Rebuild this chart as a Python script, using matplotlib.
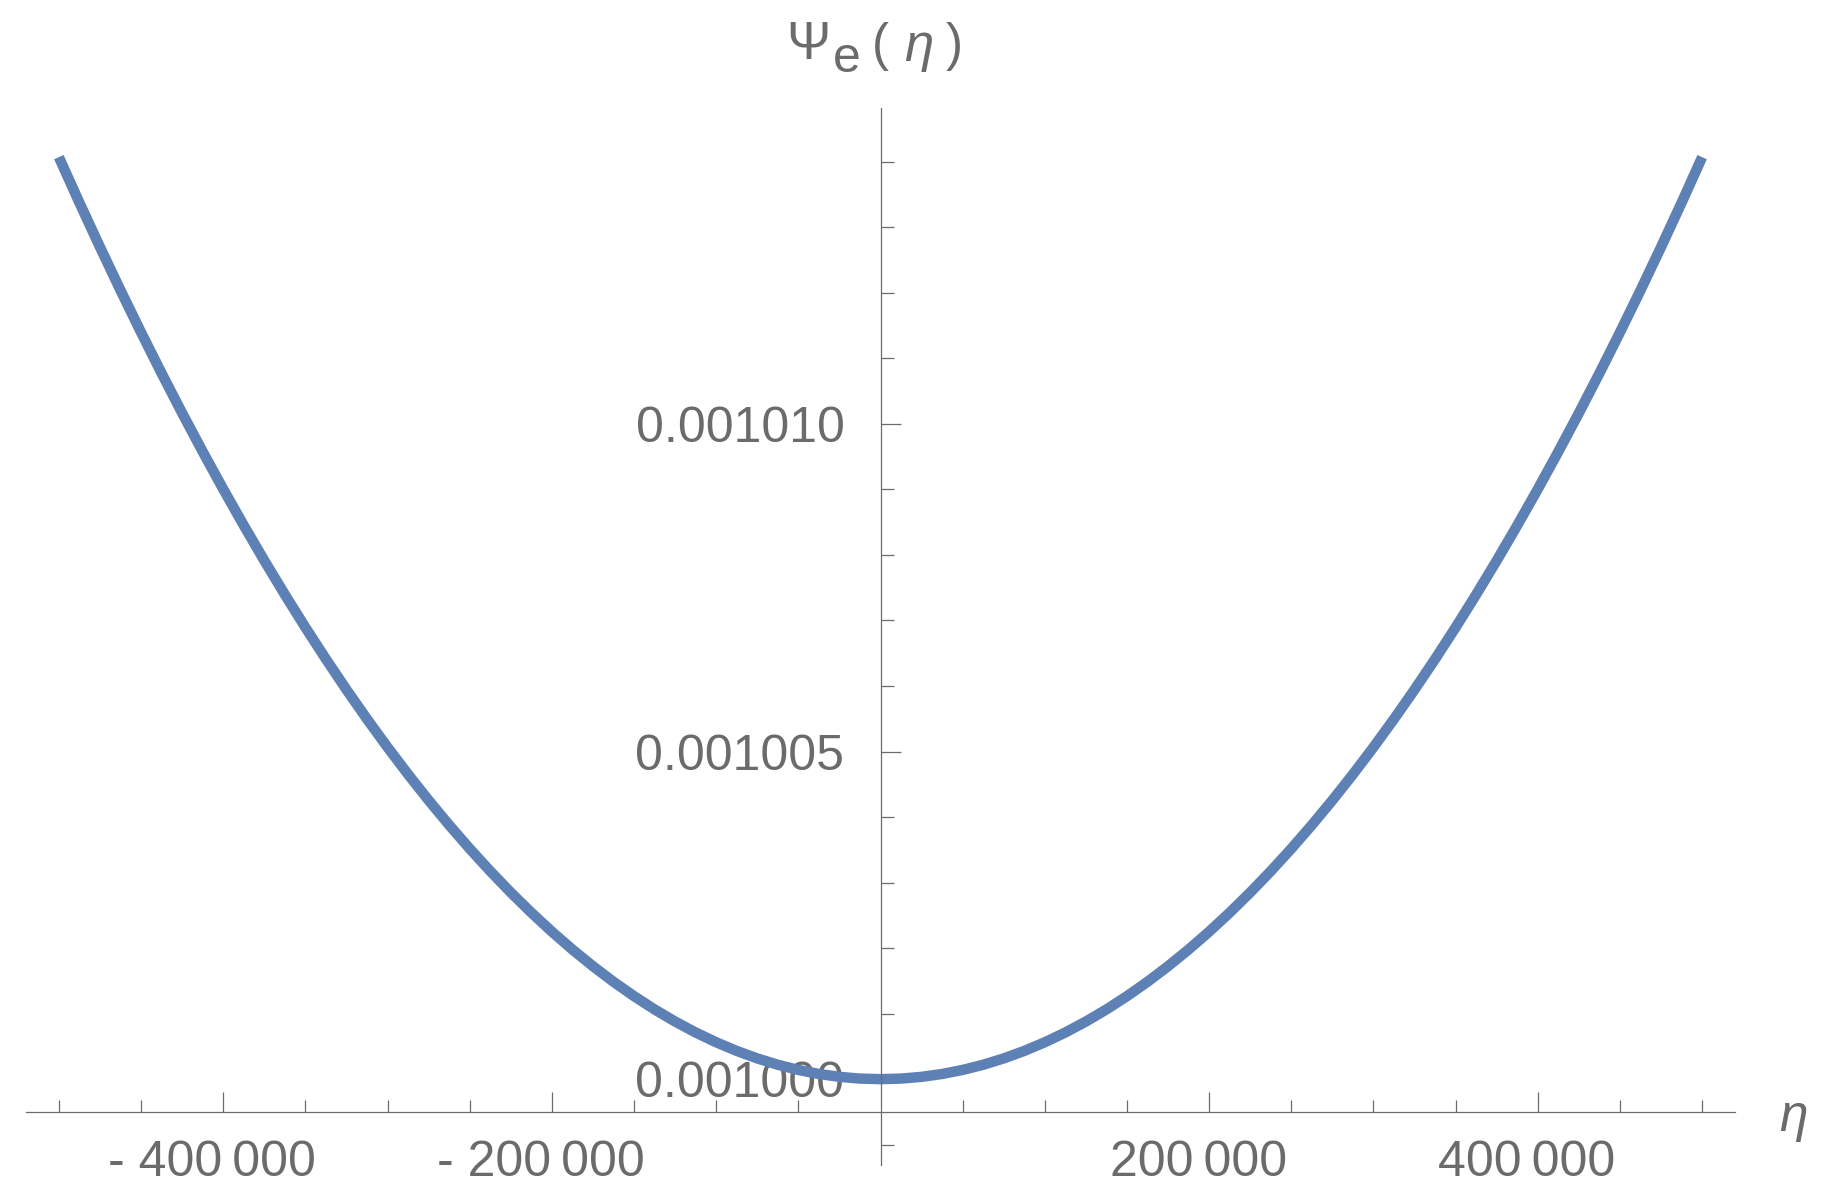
import matplotlib.pyplot as plt
from matplotlib.ticker import FixedLocator, MultipleLocator
from matplotlib.transforms import ScaledTranslation

plt.rcParams['font.family'] = ['Liberation Sans', 'DejaVu Sans']

eta = [k * 12500 for k in range(-40, 41)]
psi = [0.0010140700, 0.0010133753, 0.0010126982, 0.0010120386, 0.0010113967,
       0.0010107723, 0.0010101656, 0.0010095764, 0.0010090048, 0.0010084508,
       0.0010079144, 0.0010073956, 0.0010068943, 0.0010064107, 0.0010059446,
       0.0010054961, 0.0010050652, 0.0010046519, 0.0010042562, 0.0010038780,
       0.0010035175, 0.0010031745, 0.0010028492, 0.0010025414, 0.0010022512,
       0.0010019786, 0.0010017236, 0.0010014861, 0.0010012663, 0.0010010640,
       0.0010008794, 0.0010007123, 0.0010005628, 0.0010004309, 0.0010003166,
       0.0010002198, 0.0010001407, 0.0010000791, 0.0010000352, 0.0010000088,
       0.0010000000,
       0.0010000088, 0.0010000352, 0.0010000791, 0.0010001407, 0.0010002198,
       0.0010003166, 0.0010004309, 0.0010005628, 0.0010007123, 0.0010008794,
       0.0010010640, 0.0010012663, 0.0010014861, 0.0010017236, 0.0010019786,
       0.0010022512, 0.0010025414, 0.0010028492, 0.0010031745, 0.0010035175,
       0.0010038780, 0.0010042562, 0.0010046519, 0.0010050652, 0.0010054961,
       0.0010059446, 0.0010064107, 0.0010068943, 0.0010073956, 0.0010079144,
       0.0010084508, 0.0010090048, 0.0010095764, 0.0010101656, 0.0010107723,
       0.0010113967, 0.0010120386, 0.0010126982, 0.0010133753, 0.0010140700]

xticks = [-400000, -200000, 200000, 400000]
xlabels = ['- 400\u2009000', '- 200\u2009000', '200\u2009000', '400\u2009000']
xminor = [-500000, -450000, -350000, -300000, -250000, -150000, -100000, -50000,
          50000, 100000, 150000, 250000, 300000, 350000, 450000, 500000]
yticks = [0.001000, 0.001005, 0.001010]
ylabels = ['0.001000', '0.001005', '0.001010']

grey = '#6b6b6b'
W, H = 1825, 1200

fig = plt.figure(figsize=(W / 100, H / 100), dpi=100)
ax = fig.add_axes([26 / W, 1 - 1165 / H, (1735 - 26) / W, (1165 - 108) / H])

ax.plot(eta, psi, color='#5E81B5', lw=7.5, solid_capstyle='butt', solid_joinstyle='round')

ax.set_xlim(-520000, 520000)
ax.set_ylim(0.00099869, 0.00101482)

for s in ['top', 'right']:
    ax.spines[s].set_visible(False)
ax.spines['left'].set_position(('data', 0))
ax.spines['bottom'].set_position(('data', 0.0009995))
for s in ['left', 'bottom']:
    ax.spines[s].set_color(grey)
    ax.spines[s].set_linewidth(0.9)

ax.xaxis.set_major_locator(FixedLocator(xticks))
ax.set_xticklabels(xlabels)
ax.xaxis.set_minor_locator(FixedLocator(xminor))
ax.yaxis.set_major_locator(FixedLocator(yticks))
ax.set_yticklabels(ylabels)
ax.yaxis.set_minor_locator(MultipleLocator(0.000001))

ax.tick_params(axis='both', which='both', direction='in', color=grey, width=0.9,
               labelcolor=grey, labelsize=36)
ax.tick_params(axis='both', which='major', length=14.5)
ax.tick_params(axis='both', which='minor', length=9)
ax.tick_params(axis='x', which='major', pad=20)
ax.tick_params(axis='y', which='major', pad=26)

shift = ScaledTranslation(-11 / 100, 0, fig.dpi_scale_trans)
for lab in ax.get_xticklabels():
    lab.set_transform(lab.get_transform() + shift)

# axis labels, placed in pixel coordinates measured from the top-left corner
def put(x, y_top, s, size, style='normal'):
    fig.text(x / W, 1 - y_top / H, s, fontsize=size, color=grey, fontstyle=style,
             ha='left', va='baseline')

put(1779, 1131, '\u03b7', 37, 'italic')
put(786, 59, '\u03a8', 38)
put(833, 72, 'e', 36)
put(872, 60, '(', 37)
put(904, 61, '\u03b7', 38, 'italic')
put(946, 60, ')', 37)

fig.savefig('out.png', dpi=100)
